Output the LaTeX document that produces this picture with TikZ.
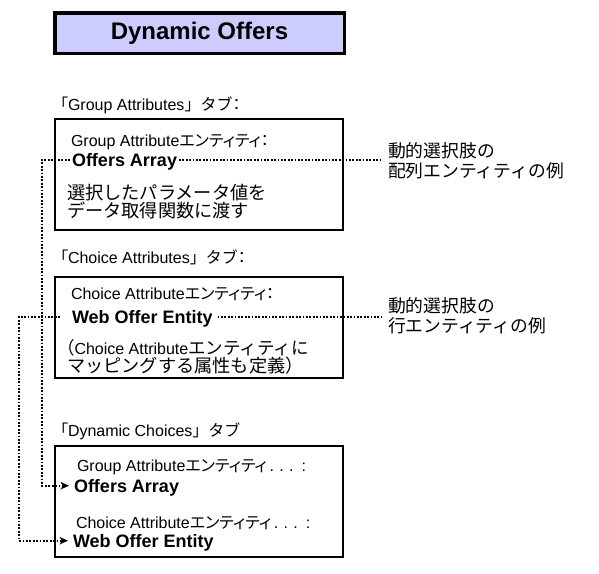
\documentclass[tikz,border=0pt]{standalone}
\usepackage{fontspec}
\setmainfont{Liberation Sans}
\newfontfamily\jp{Noto Sans CJK JP}
\newfontfamily\jpp[RawFeature=+palt]{Noto Sans CJK JP}
\usetikzlibrary{arrows.meta}
\definecolor{titlefill}{HTML}{CCCCFF}
\begin{document}
\begin{tikzpicture}[x=1pt,y=-1pt,
  every node/.style={inner sep=0pt, outer sep=0pt},
  hdr/.style={anchor=base west, font=\fontsize{16}{18}\selectfont},
  key/.style={anchor=base west, font=\fontsize{18}{20}\selectfont\bfseries, text height=12.6pt, text depth=0pt, inner xsep=2pt},
  body/.style={anchor=base west, font=\fontsize{16}{18}\selectfont},
  jbody/.style={anchor=base west, font=\jp\fontsize{18.2}{20}\selectfont},
  note/.style={anchor=base west, font=\jp\fontsize{17.8}{20}\selectfont},
  box/.style={draw, line width=1.2pt},
  link/.style={line width=1.8pt, dash pattern=on 1.8pt off 1.6pt},
  arr/.style={link, -{Stealth[length=8.5pt,width=7.5pt,inset=2.5pt]}}
]
\useasboundingbox (0,0) rectangle (599,573);

% title
\node[draw, line width=3.5pt, fill=titlefill, minimum width=289.5pt, minimum height=40.5pt,
      font=\fontsize{24}{26}\selectfont\bfseries] (title) at (199.5,33) {Dynamic Offers};

% boxes
\node[box, minimum width=288pt, minimum height=111pt] (g1) at (199,174.5) {};
\node[box, minimum width=288pt, minimum height=101pt] (g2) at (199,327.5) {};
\node[box, minimum width=288pt, minimum height=111pt] (g3) at (199,501.5) {};

% box 1
\node[hdr] (tab1) at (60,110) {{\jpp 「}Group Attributes{\jp 」タブ}{\jpp ：}};
\node[hdr] (ga1) at (71,146) {Group Attribute{\jpp エンティティ：}};
\node[key] (oa1) at (70,166) {Offers Array};
\node[jbody] (d1a) at (67,199) {選択したパラメータ値を};
\node[jbody] (d1b) at (67,217) {データ取得関数に渡す};
\node[note] (n1a) at (388,157) {動的選択肢の};
\node[note] (n1b) at (388,177) {配列エンティティの例};

% box 2
\node[hdr] (tab2) at (60,263) {{\jpp 「}Choice Attributes{\jp 」タブ}{\jpp ：}};
\node[hdr] (ca2) at (71,299) {Choice Attribute{\jpp エンティティ：}};
\node[key] (wo2) at (70,323) {Web Offer Entity};
\node[body] (d2a) at (57,354) {{\jp\fontsize{17.5}{20}\selectfont （}Choice Attribute{\jp\fontsize{17.5}{20}\selectfont エンティティに}};
\node[jbody] (d2b) at (67,372) {マッピングする属性も定義）};
\node[note] (n2a) at (388,312) {動的選択肢の};
\node[note] (n2b) at (388,332) {行エンティティの例};

% box 3
\node[hdr] (tab3) at (60,436) {{\jpp 「}Dynamic Choices{\jp 」タブ}};
\node[hdr] (ga3) at (77,471) {Group Attribute{\jpp エンティティ}\,.\,\,.\,\,.\,\,\,:};
\node[key, inner xsep=5pt] (oa3) at (69,492) {Offers Array};
\node[hdr] (ca3) at (76,528) {Choice Attribute{\jpp エンティティ}\,.\,\,.\,\,.\,\,\,:};
\node[key, inner xsep=5pt] (wo3) at (68,547) {Web Offer Entity};

% connectors
\coordinate (v1) at (42,0);
\coordinate (v2) at (19,0);
\coordinate (r1) at (382,0);
\draw[arr] (oa1.west) -- (oa1.west -| v1) -- (oa3.west -| v1) -- (oa3.west);
\draw[link] (oa1.east) -- (oa1.east -| r1);
\draw[arr] ([xshift=-10pt]wo2.west) -- (wo2.west -| v2) -- (wo3.west -| v2) -- (wo3.west);
\draw[link] ([xshift=3pt]wo2.east) -- (wo2.east -| r1);
\end{tikzpicture}
\end{document}
